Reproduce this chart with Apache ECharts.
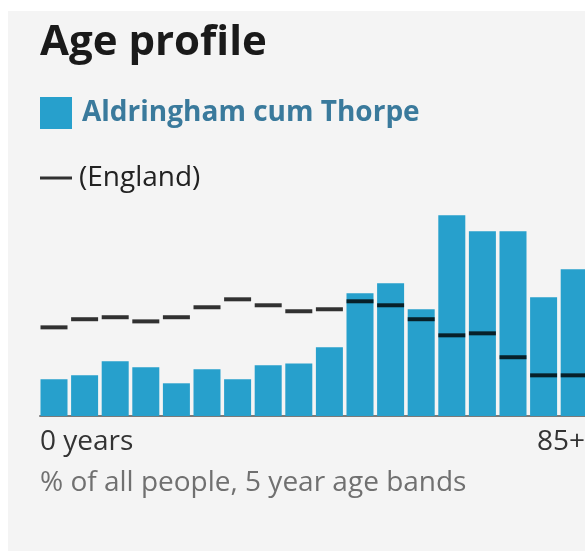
<!DOCTYPE html>
<html>
<head>
<meta charset="utf-8">
<script src="https://cdn.jsdelivr.net/npm/echarts@6/dist/echarts.min.js"></script>
<style>
  html, body { margin: 0; padding: 0; background: #ffffff; width: 585px; height: 551px; overflow: hidden; position: relative; }
  #panel { position: absolute; left: 8px; top: 11px; width: 582px; height: 540px; background: #f4f4f4; }
</style>
</head>
<body>
<div id="panel"></div>
<script>
// ---- data ----
const titleText = 'Age profile';
const subtitleText = '% of all people, 5 year age bands';
const areaName = 'Aldringham cum Thorpe';
const compareName = '(England)';
const ageBands = ['0-4','5-9','10-14','15-19','20-24','25-29','30-34','35-39','40-44','45-49','50-54','55-59','60-64','65-69','70-74','75-79','80-84','85+'];
const areaValues = [2.21, 2.45, 3.30, 2.93, 1.97, 2.81, 2.21, 3.05, 3.17, 4.14, 7.39, 7.99, 6.43, 12.09, 11.13, 11.13, 7.15, 8.84];
const englandValues = [5.34, 5.83, 5.95, 5.70, 5.95, 6.55, 7.03, 6.67, 6.31, 6.43, 6.91, 6.67, 5.83, 4.86, 4.98, 3.54, 2.45, 2.45];
const tickLabels = ['0 years', '85+'];

const FONT = "'Open Sans', 'Noto Sans', sans-serif";
const chart = echarts.init(document.getElementById('panel'), null, { renderer: 'canvas' });

chart.setOption({
  animation: false,
  backgroundColor: '#f4f4f4',
  textStyle: { fontFamily: FONT },
  title: [
    {
      text: titleText, left: 32, top: 11, padding: 0,
      textStyle: { fontFamily: FONT, fontSize: 42, fontWeight: 'bold', color: '#1a1a1a' }
    },
    {
      text: subtitleText, left: 32, top: 458, padding: 0,
      textStyle: { fontFamily: FONT, fontSize: 28, fontWeight: 'normal', color: '#707070' }
    }
  ],
  legend: [
    {
      data: [{ name: areaName, icon: 'rect' }],
      left: 32, top: 86, padding: 0,
      itemWidth: 32, itemHeight: 32,
      selectedMode: false,
      textStyle: { fontFamily: FONT, fontSize: 28, fontWeight: 'bold', color: '#3a7a9c', padding: [0, 0, 0, 5] }
    },
    {
      data: [{ name: compareName, icon: 'rect', itemStyle: { color: '#000' } }],
      left: 32, top: 153, padding: 0,
      itemWidth: 32, itemHeight: 3,
      selectedMode: false,
      textStyle: { fontFamily: FONT, fontSize: 28, color: '#222', padding: [0, 0, 0, 2] }
    }
  ],
  grid: [
    { left: 30.7, right: 0.5, top: 172.6, bottom: 135 },
    { left: 32, right: 5, top: 172.6, bottom: 135 }
  ],
  xAxis: [
    {
      type: 'category', data: ageBands, gridIndex: 0,
      axisLine: { show: false }, axisTick: { show: false }, axisLabel: { show: false },
      splitLine: { show: false }
    },
    {
      type: 'value', gridIndex: 1, min: 0, max: 1, interval: 1,
      axisLine: { show: true, lineStyle: { color: '#7a7a7a', width: 2 } },
      axisTick: { show: false }, splitLine: { show: false },
      axisLabel: {
        show: true, margin: 12, fontFamily: FONT, fontSize: 28, color: '#333',
        alignMinLabel: 'left', alignMaxLabel: 'right',
        formatter: function (v) { return v === 0 ? tickLabels[0] : tickLabels[1]; }
      }
    }
  ],
  yAxis: [
    { type: 'value', gridIndex: 0, min: 0, max: 14, show: false },
    { type: 'value', gridIndex: 1, min: 0, max: 14, show: false }
  ],
  series: [
    {
      name: areaName, type: 'bar', xAxisIndex: 0, yAxisIndex: 0,
      data: areaValues, barWidth: 27,
      itemStyle: { color: '#27a0cc' }, z: 2
    },
    {
      name: compareName, type: 'scatter', xAxisIndex: 0, yAxisIndex: 0,
      data: englandValues, symbol: 'rect', symbolSize: [27, 4],
      itemStyle: { color: '#000' }, z: 3
    }
  ]
});
</script>
</body>
</html>
